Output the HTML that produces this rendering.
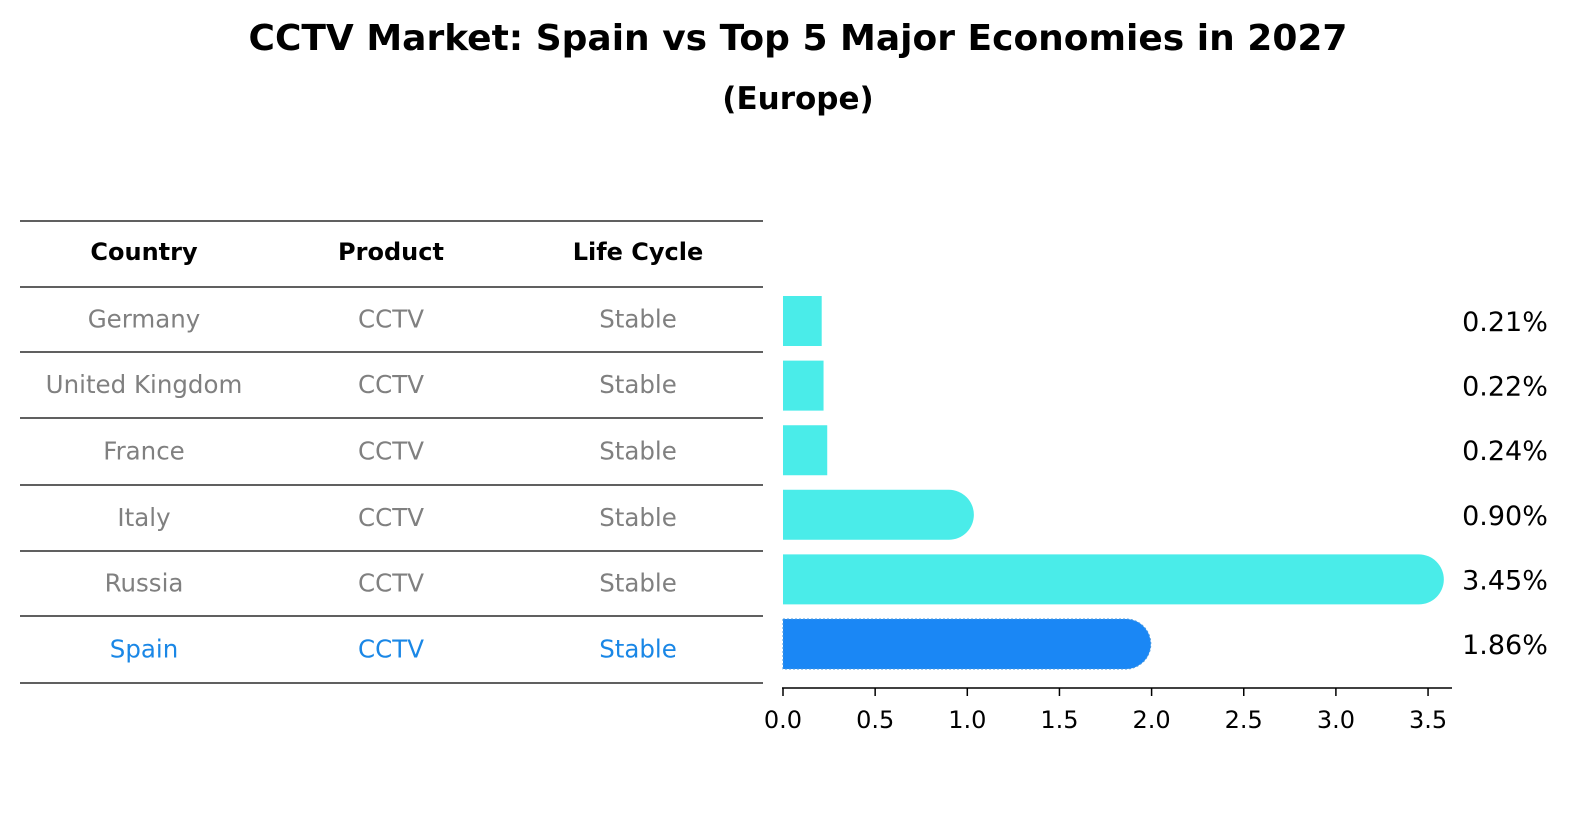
<!DOCTYPE html>
<html><head><meta charset="utf-8"><style>
body{margin:0;background:#fff;font-family:"Liberation Sans","DejaVu Sans",sans-serif;}
svg{display:block}
</style></head><body>
<svg id="chart" width="1586" height="823" xmlns="http://www.w3.org/2000/svg">
<text x="798" y="50" text-anchor="middle" font-size="36" font-weight="bold" font-family="DejaVu Sans, sans-serif">CCTV Market: Spain vs Top 5 Major Economies in 2027</text>
<text x="798" y="109" text-anchor="middle" font-size="31" font-weight="bold" font-family="DejaVu Sans, sans-serif">(Europe)</text>
<g id="table"></g>
<g id="bars"></g>
</svg>
<script>
const countries=["Germany","United Kingdom","France","Italy","Russia","Spain"];
const products=["CCTV","CCTV","CCTV","CCTV","CCTV","CCTV"];
const lifeCycles=["Stable","Stable","Stable","Stable","Stable","Stable"];
const values=[0.21,0.22,0.24,0.90,3.45,1.86];
const valueLabels=["0.21%","0.22%","0.24%","0.90%","3.45%","1.86%"];
const ticks=[0,0.5,1.0,1.5,2.0,2.5,3.0,3.5];
const tickLabels=["0.0","0.5","1.0","1.5","2.0","2.5","3.0","3.5"];

const NS="http://www.w3.org/2000/svg";
function mk(tag,attrs,parent,text){const e=document.createElementNS(NS,tag);for(const k in attrs)e.setAttribute(k,attrs[k]);if(text!==undefined)e.textContent=text;parent.appendChild(e);return e;}
const x=v=>783+v*184.3;
const rowY=i=>321+i*64.6;
const FONT="DejaVu Sans, sans-serif";

const tb=document.getElementById('table');
const lineYs=[221,287,352,418,485,551,616,683];
lineYs.forEach((ly,i)=>{const l=mk('line',{x1:20,x2:763,y1:ly,y2:ly,stroke:'#000','stroke-width':1.2},tb);

});
const colX=[144,391,638];
["Country","Product","Life Cycle"].forEach((h,j)=>{const t=mk('text',{x:colX[j],y:260,'text-anchor':'middle','font-size':24,'font-weight':'bold','font-family':FONT},tb,h);

});
countries.forEach((c,i)=>{
  const col=c==="Spain"?"#1a87e6":"#808080";
  const yy=(lineYs[i+1]+lineYs[i+2])/2+8;
  [c,products[i],lifeCycles[i]].forEach((v,j)=>{const t=mk('text',{x:colX[j],y:yy,'text-anchor':'middle','font-size':24.5,fill:col,'font-family':FONT},tb,v);
  
  });
});

const bg=document.getElementById('bars');
const h=50,r=25;
values.forEach((v,i)=>{
  const cy=rowY(i),x0=x(0),x1=x(v);
  const col=countries[i]==="Spain"?"#1a87f5":"#4aece9";
  let d;
  if(v>0.5){d=`M${x0},${cy-h/2}H${x1}A${r},${r} 0 0 1 ${x1},${cy+h/2}H${x0}Z`;}
  else{d=`M${x0},${cy-h/2}H${x1}V${cy+h/2}H${x0}Z`;}
  const p=mk('path',{d:d,fill:col},bg);
  if(countries[i]==="Spain"){p.setAttribute('stroke','#4a9ae0');p.setAttribute('stroke-dasharray','2,2');p.setAttribute('stroke-width','1');}
  
  
  const t=mk('text',{x:1505,y:cy+10,'text-anchor':'middle','font-size':27,'font-family':FONT},bg,valueLabels[i]);
  
  
});
const ax=mk('line',{x1:782,x2:1452,y1:688,y2:688,stroke:'#000','stroke-width':1.5},bg);


ticks.forEach((tv,i)=>{
  const tk=mk('line',{x1:x(tv),x2:x(tv),y1:688,y2:696,stroke:'#000','stroke-width':1.5},bg);
  
  
  const t=mk('text',{x:x(tv),y:728,'text-anchor':'middle','font-size':24,'font-family':FONT},bg,tickLabels[i]);
  
  
});
</script>
</body></html>
